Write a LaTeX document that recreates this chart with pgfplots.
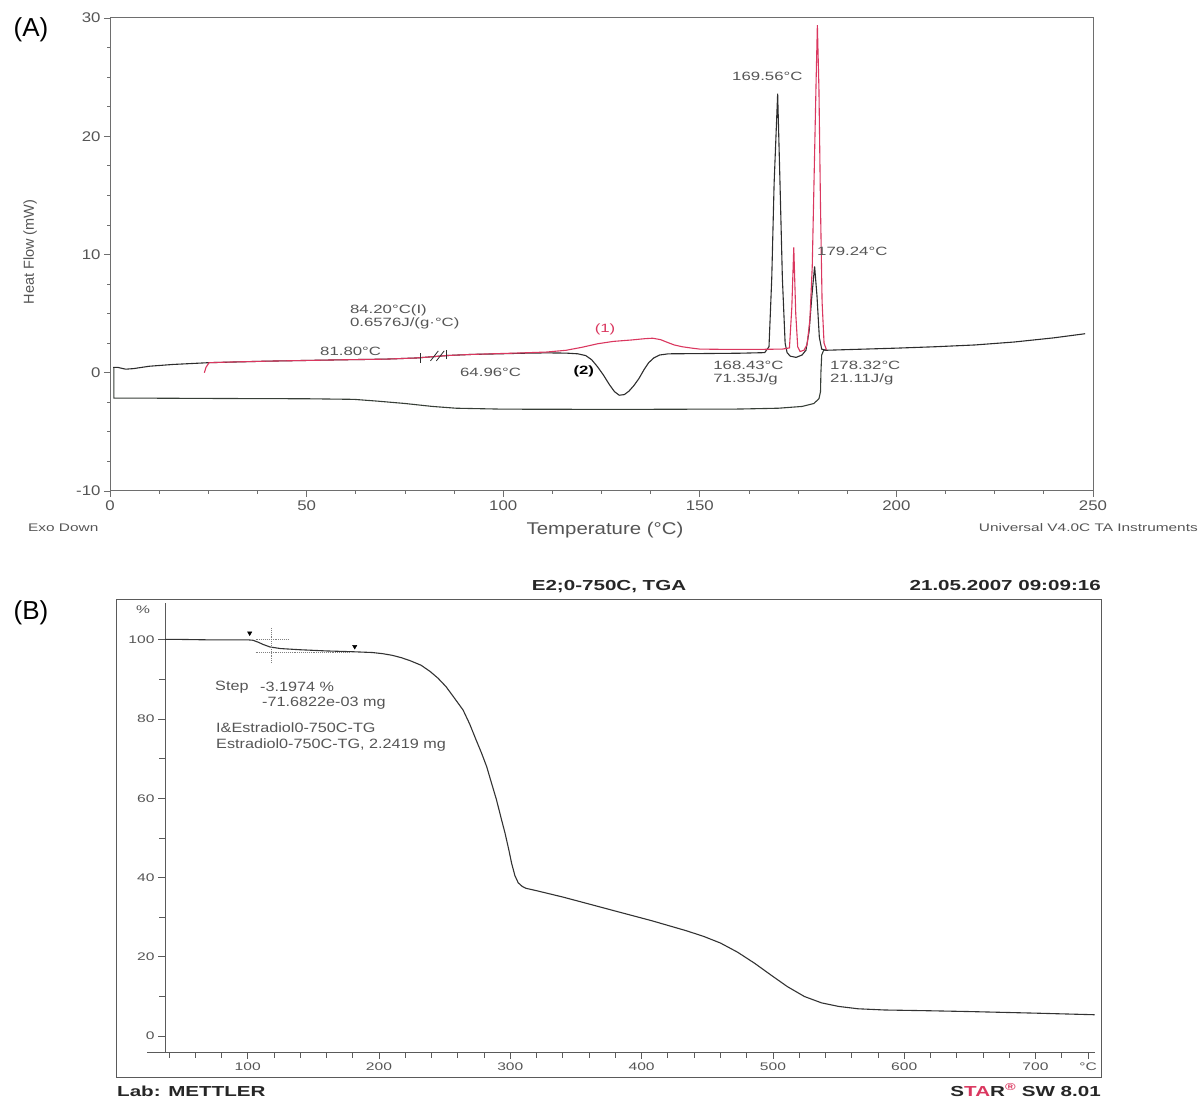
\documentclass[border=0pt]{standalone}
\usepackage{fontspec}
\setmainfont{Liberation Sans}
\newfontfamily\fA[FakeStretch=1.2]{Liberation Sans}
\newfontfamily\fC[FakeStretch=1.4]{Liberation Sans}
\newfontfamily\fD[FakeStretch=1.42]{Liberation Sans}
\usepackage{pgfplots}
\pgfplotsset{compat=1.18}
\definecolor{redc}{RGB}{218,55,95}
\definecolor{blkc}{RGB}{45,45,45}
\definecolor{lowc}{RGB}{55,62,55}
\definecolor{axg}{RGB}{110,110,110}
\definecolor{txg}{RGB}{85,85,85}
\definecolor{bax}{RGB}{90,90,90}
\newcommand\tickA{\fA\fontsize{14}{16}\selectfont}
\newcommand\annA{\fC\fontsize{12}{14}\selectfont}
\newcommand\tickB{\fD\fontsize{11}{13}\selectfont}
\newcommand\txtB{\fA\fontsize{13.5}{15}\selectfont}
\newcommand\boldB{\fD\bfseries\fontsize{14.5}{16}\selectfont}

\pgfplotstableread{
x y
24.0 0.0
24.4 0.45
25.2 0.85
30 0.9
40 0.98
50 1.04
60 1.1
70 1.15
78 1.25
86 1.46
92 1.55
99 1.62
105 1.68
111 1.75
116 1.9
120 2.15
124 2.45
128 2.65
132.6 2.77
136 2.88
138 2.92
140 2.8
141.5 2.6
143.5 2.35
145.5 2.2
148 2.08
150 2.0
158 1.97
166 1.98
171 2.0
172.8 2.1
173.4 5.5
173.9 10.6
174.4 5.0
174.9 2.2
175.5 1.8
176.5 1.9
177.3 2.4
178.0 4.5
178.6 9
179.1 17
179.6 25
179.9 29.4
180.3 24
180.7 14
181.1 6
181.6 2.5
182.2 1.95
}\redcurve

\pgfplotstableread{
x y
0.8 0.45
2 0.45
4 0.3
6 0.35
10 0.55
16 0.7
25 0.85
40 0.98
50 1.04
60 1.1
70 1.15
78 1.25
86 1.46
92 1.55
99 1.6
105 1.65
111 1.68
116 1.66
119 1.6
121 1.45
122.5 1.1
124 0.5
125.5 -0.2
127 -1.0
128.3 -1.6
129.5 -1.9
130.8 -1.85
132 -1.55
133.2 -1.1
134.5 -0.5
135.8 0.25
137 0.85
138.3 1.25
139.8 1.5
142 1.6
150 1.62
160 1.65
166.5 1.7
167.6 2.2
168.3 8
168.9 16
169.8 23.6
170.4 16
171.0 8
171.7 2.5
172.2 1.7
173 1.4
174.5 1.3
176 1.5
177 1.9
177.8 3.5
178.5 6.5
179.2 9.0
179.8 6.5
180.4 3
181 2.0
182 1.9
190 1.98
200 2.08
210 2.2
220 2.35
230 2.6
240 2.95
248 3.3
}\blackcurve

\pgfplotstableread{
x y
1.0 0.45
1.0 -2.15
10 -2.15
30 -2.18
50 -2.2
62 -2.25
68 -2.4
75 -2.6
82 -2.85
88 -3.0
100 -3.08
130 -3.1
160 -3.07
170 -3.0
176 -2.85
179 -2.6
180.3 -2.2
180.7 -1.6
180.8 0.0
181.0 1.5
181.5 1.9
182.2 1.95
}\lowcurve

\pgfplotstableread{
x y
37 100.1
50 100.1
70 100.0
90 100.0
100 100.0
104 99.9
108 99.4
112 98.8
117 98.2
125 97.8
140 97.5
160 97.2
180 97.0
195 96.8
203 96.5
210 96.1
217 95.5
224 94.7
232 93.6
239 92.0
245 90.3
251 88.2
257 85.5
264 82.3
269 78.8
274 74.7
278 71.5
282 68.0
286 63.5
289.5 59.6
293 55.0
296 51.2
299 46.8
301 43.6
303.5 40.5
306 38.7
309 37.8
312 37.3
320 36.7
330 35.9
340 35.1
357 33.6
383 31.3
408 29.1
434 26.6
447 25.2
460 23.5
473 21.2
486 18.4
499 15.3
511 12.5
524 10.0
537 8.4
550 7.5
565 6.9
585 6.6
620 6.4
650 6.2
700 5.8
745 5.4
}\tgacurve

\begin{document}
\begin{tikzpicture}
\useasboundingbox (0,0) rectangle (1203pt,1100pt);

% ---------------- Panel A ----------------
\begin{axis}[name=A, at={(110pt,609pt)}, anchor=south west, scale only axis,
  width=983pt, height=473pt,
  xmin=0, xmax=250, ymin=-10, ymax=30,
  xtick={0,50,100,150,200,250}, xticklabels={0,50,100,150,200,250},
  ytick={-10,0,10,20,30}, yticklabels={-10,0,10,20,30},
  minor x tick num=3, minor y tick num=3,
  xtick pos=left, ytick pos=left,
  tick align=outside,
  major tick length=6pt, minor tick length=3pt,
  axis line style={axg, line width=1pt},
  every tick/.style={axg, line width=0.8pt},
  tick label style={font=\tickA, text=txg},
  clip=false]
\addplot[lowc, line width=1.1pt] table[x=x,y=y] {\lowcurve};
\addplot[blkc, line width=1.1pt] table[x=x,y=y] {\blackcurve};
\addplot[redc, line width=1.1pt] table[x=x,y=y] {\redcurve};
\addplot[blkc, line width=0.8pt] coordinates {(79,0.85) (79,1.7)};
\addplot[blkc, line width=0.8pt] coordinates {(81.5,1.0) (83.5,1.85)};
\addplot[blkc, line width=0.8pt] coordinates {(83,1.0) (85,1.85)};
\addplot[blkc, line width=0.8pt] coordinates {(85.6,1.15) (85.6,1.95)};

\node[anchor=west, font=\annA, text=txg, inner sep=0pt] at (axis cs:61.0,5.24) {84.20°C(I)};
\node[anchor=west, font=\annA, text=txg, inner sep=0pt] at (axis cs:61.0,4.14) {0.6576J/(g·°C)};
\node[anchor=west, font=\annA, text=txg, inner sep=0pt] at (axis cs:53.4,1.78) {81.80°C};
\node[anchor=west, font=\annA, text=txg, inner sep=0pt] at (axis cs:89.0,0.0) {64.96°C};
\node[font=\annA, text=redc, inner sep=0pt] at (axis cs:125.9,3.63) {(1)};
\node[font=\fC\bfseries\fontsize{12}{14}\selectfont, text=black, inner sep=0pt] at (axis cs:120.5,0.08) {(2)};
\node[anchor=west, font=\annA, text=txg, inner sep=0pt] at (axis cs:158.2,25.1) {169.56°C};
\node[anchor=west, font=\annA, text=txg, inner sep=0pt] at (axis cs:179.8,10.3) {179.24°C};
\node[anchor=west, font=\annA, text=txg, inner sep=0pt] at (axis cs:153.4,0.59) {168.43°C};
\node[anchor=west, font=\annA, text=txg, inner sep=0pt] at (axis cs:153.4,-0.59) {71.35J/g};
\node[anchor=west, font=\annA, text=txg, inner sep=0pt] at (axis cs:183.1,0.59) {178.32°C};
\node[anchor=west, font=\annA, text=txg, inner sep=0pt] at (axis cs:183.1,-0.59) {21.11J/g};
\end{axis}

\node[font=\fontsize{26}{28}\selectfont, text=black] at (31pt,1070pt) {(A)};
\node[rotate=90, font=\fontsize{14.5}{16}\selectfont, text=txg] at (30pt,848pt) {Heat Flow (mW)};
\node[font=\fA\fontsize{17}{19}\selectfont, text=txg] at (605pt,570pt) {Temperature (°C)};
\node[anchor=west, font=\fC\fontsize{11}{13}\selectfont, text=txg, inner sep=0pt] at (28pt,572pt) {Exo Down};
\node[anchor=east, font=\fC\fontsize{11}{13}\selectfont, text=txg, inner sep=0pt] at (1198pt,572pt) {Universal V4.0C TA Instruments};

% ---------------- Panel B ----------------
\begin{axis}[name=B, at={(165pt,48pt)}, anchor=south west, scale only axis,
  width=929.6pt, height=449pt,
  xmin=37, xmax=745, ymin=-4, ymax=109.3,
  axis x line=bottom, axis y line=left,
  axis line style={-, bax, line width=0.9pt},
  xtick={100,200,300,400,500,600,700,740},
  xticklabels={100,200,300,400,500,600,700,°C},
  minor xtick={40,60,...,740},
  ytick={0,20,40,60,80,100}, yticklabels={0,20,40,60,80,100},
  minor ytick={10,30,50,70,90},
  tick align=outside,
  major tick length=7pt, minor tick length=6pt,
  every tick/.style={bax, line width=0.8pt},
  tick label style={font=\tickB, text=txg},
  clip=false]
\addplot[black!80, line width=1.1pt] table[x=x,y=y] {\tgacurve};
\addplot[gray, densely dotted, line width=0.9pt] coordinates {(106,100.0) (132,100.0)};
\addplot[gray, densely dotted, line width=0.9pt] coordinates {(106,96.9) (178,96.9)};
\addplot[gray, densely dotted, line width=0.9pt] coordinates {(118,103) (118,94.1)};
\addplot[only marks, mark=triangle*, mark options={rotate=180, fill=black, draw=black}, mark size=2.5pt] coordinates {(101.5,101.7) (181.5,98.3)};
\end{axis}

\draw[bax, line width=0.9pt] (116pt,23pt) rectangle (1101pt,501pt);
\draw[bax, line width=0.9pt] (147pt,48pt) -- (165pt,48pt);

\node[font=\fontsize{26}{28}\selectfont, text=black] at (31pt,487pt) {(B)};
\node[font=\tickB, text=txg] at (143pt,490pt) {\%};
\node[font=\boldB, text=black!85] at (609pt,513pt) {E2;0-750C, TGA};
\node[anchor=east, font=\boldB, text=black!85, inner sep=0pt] at (1101pt,514pt) {21.05.2007 09:09:16};
\node[anchor=west, font=\boldB, text=black!85, inner sep=0pt] at (117pt,9pt) {Lab: METTLER};
\node[anchor=east, font=\boldB, text=black!85, inner sep=0pt] at (1101pt,10pt) {S\textcolor{redc}{TA}R\textsuperscript{\textcolor{redc}{®}} SW 8.01};

\node[anchor=west, font=\txtB, text=txg, inner sep=0pt] at (215pt,413pt) {Step};
\node[anchor=west, font=\txtB, text=txg, inner sep=0pt] at (260pt,413pt) {-3.1974 \%};
\node[anchor=west, font=\txtB, text=txg, inner sep=0pt] at (262pt,397pt) {-71.6822e-03 mg};
\node[anchor=west, font=\txtB, text=txg, inner sep=0pt] at (216pt,372pt) {I\&Estradiol0-750C-TG};
\node[anchor=west, font=\txtB, text=txg, inner sep=0pt] at (216pt,355pt) {Estradiol0-750C-TG, 2.2419 mg};
\end{tikzpicture}
\end{document}
